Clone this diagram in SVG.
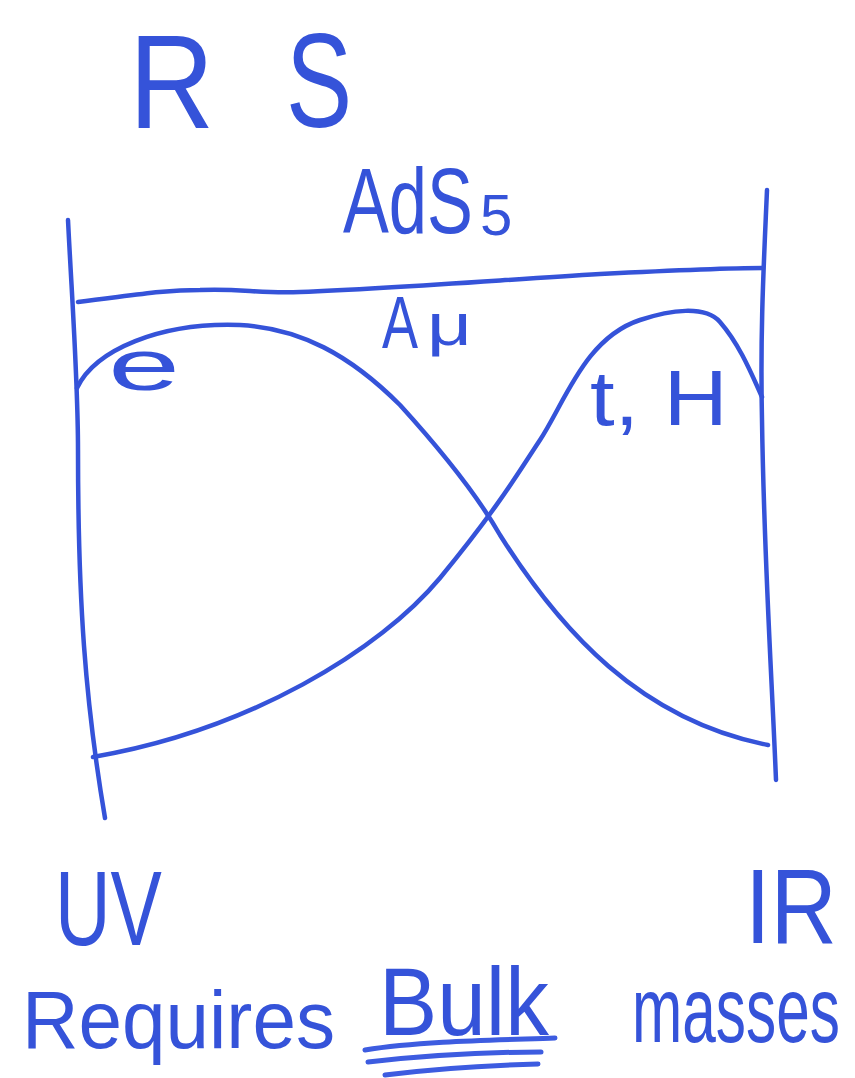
<svg xmlns="http://www.w3.org/2000/svg" width="855" height="1078" viewBox="0 0 855 1078">
<style>
.ln{fill:none;stroke:#3553d9;stroke-width:4.5;stroke-linecap:round;stroke-linejoin:round}
.ul{fill:none;stroke:#3d5ce0;stroke-width:5;stroke-linecap:round}
.t{fill:#3553d9;font-family:"Liberation Sans",Arial,sans-serif}
</style>
<rect width="855" height="1078" fill="#ffffff"/>
<g id="title">
<text class="t" transform="translate(129,128) scale(0.88,1)" font-size="134">R</text>
<text class="t" transform="translate(286,127) scale(0.74,1)" font-size="134">S</text>
</g>
<g id="ads5">
<text class="t" transform="translate(343,233) scale(0.747,1)" font-size="92">AdS</text>
<text class="t" x="480" y="235" font-size="58">5</text>
</g>
<g id="connectors">
<path class="ln" d="M68,220 C72,300 78,380 78,450 C78,600 85,700 105,818"/>
<path class="ln" d="M767,190 C764,260 760,330 762,420 C764,560 772,680 776,780"/>
<path class="ln" d="M78,302 C130,296 160,290 200,290 C240,288 260,294 300,292 C400,288 500,280 600,274 C680,270 730,268 763,268"/>
<path class="ln" d="M77,388 C95,350 160,322 240,325 C300,328 350,355 400,405 C450,460 480,500 500,535 C560,630 640,720 768,745"/>
<path class="ln" d="M93,757 C250,730 380,650 440,578 C500,505 520,470 540,440 C565,402 585,338 640,320 C670,310 705,305 720,322 C740,345 752,375 762,397"/>
</g>
<g id="am">
<text class="t" transform="translate(382,348) scale(0.73,1)" font-size="74">A</text>
<text class="t" transform="translate(427,345) scale(1.3,1)" font-size="60">μ</text>
</g>
<g id="e">
<text class="t" transform="translate(108,390) scale(1.8,1)" font-size="72">e</text>
</g>
<g id="tH">
<text class="t" transform="translate(590,425) scale(1.15,1)" font-size="77">t, H</text>
</g>
<g id="uv">
<text class="t" transform="translate(55,945) scale(0.733,1)" font-size="105">UV</text>
</g>
<g id="ir">
<text class="t" transform="translate(745,943) scale(0.876,1)" font-size="105">IR</text>
</g>
<g id="requires">
<text class="t" transform="translate(22,1048) scale(0.954,1)" font-size="82">Requires</text>
</g>
<g id="bulk">
<text class="t" transform="translate(379,1035) scale(0.9,1)" font-size="97">Bulk</text>
<path class="ul" d="M365,1050 C420,1041 500,1040 555,1038"/>
<path class="ul" d="M368,1062 C430,1055 490,1052 541,1052"/>
<path class="ul" d="M385,1075 C440,1068 500,1065 538,1064"/>
</g>
<g id="masses">
<text class="t" transform="translate(632,1042) scale(0.656,1)" font-size="92">masses</text>
</g>
</svg>
